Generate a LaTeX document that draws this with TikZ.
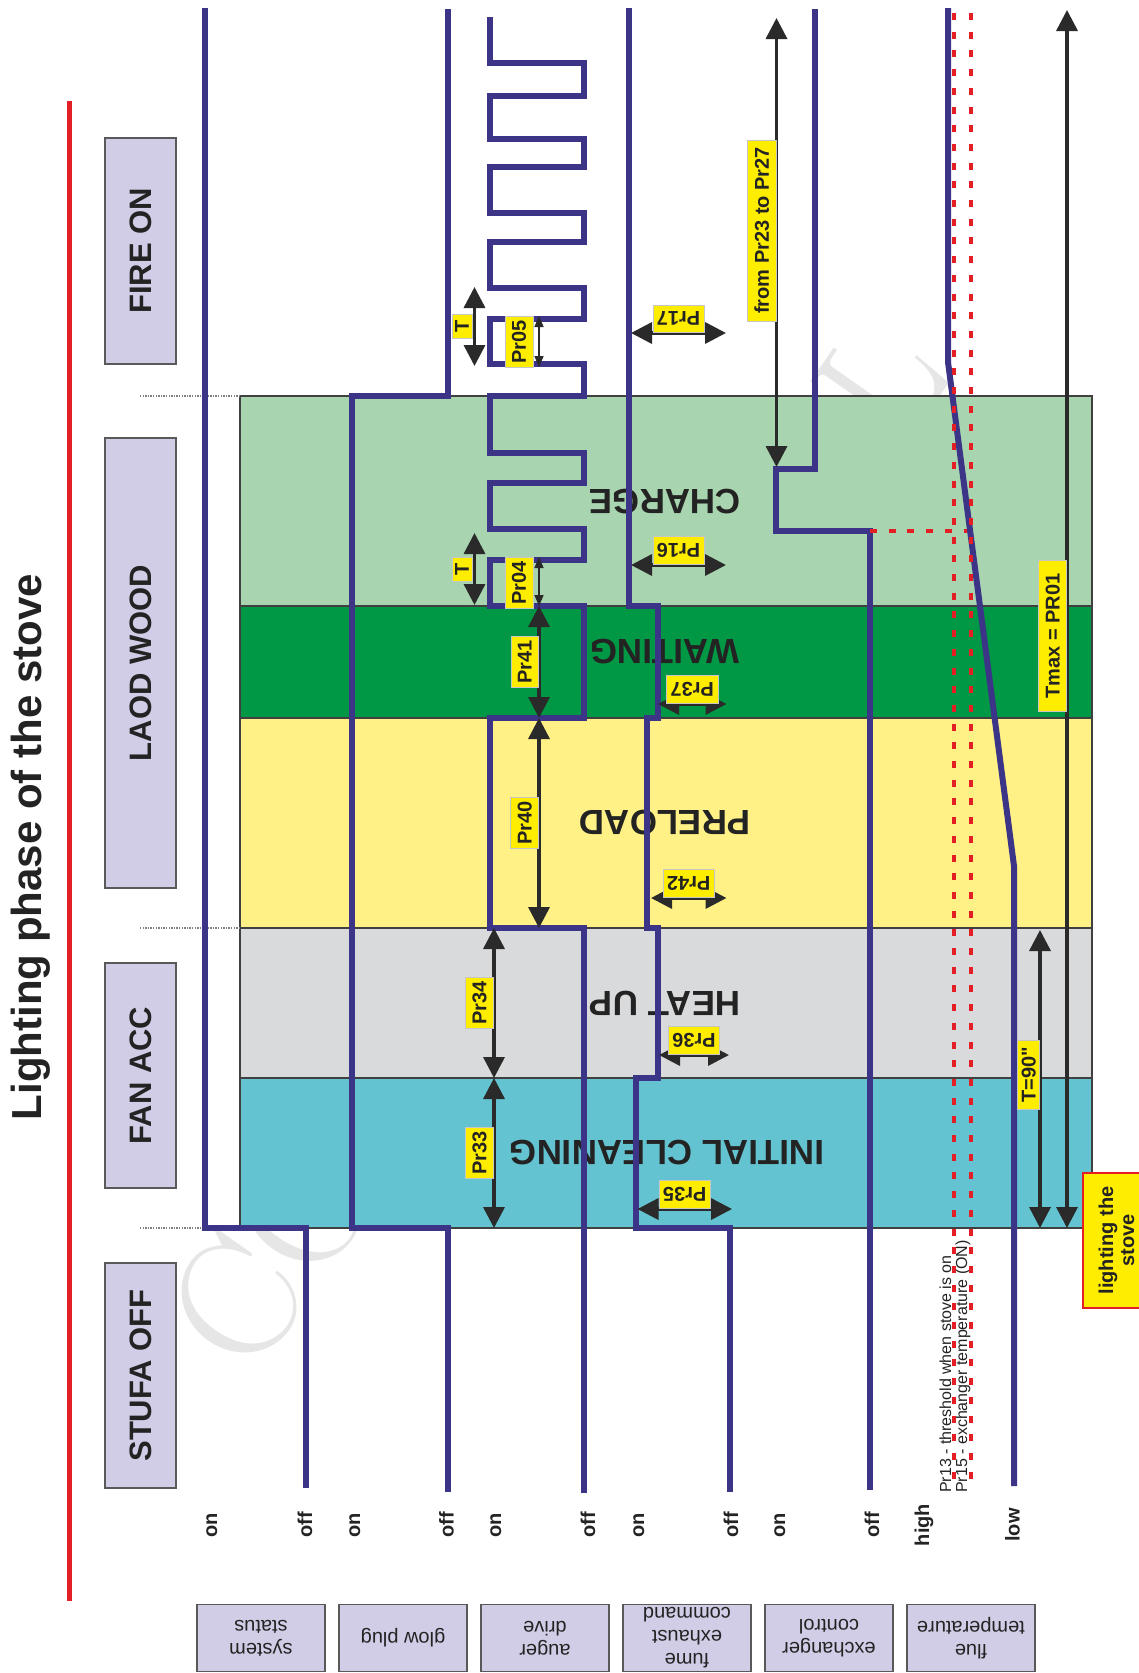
\documentclass[tikz,border=0pt]{standalone}
\usepackage{fontspec}
\newfontfamily\arialfont{Liberation Sans}
\usetikzlibrary{arrows.meta}

\definecolor{sigblue}{RGB}{59,52,135}
\definecolor{redline}{RGB}{227,30,36}
\definecolor{tagyellow}{RGB}{255,237,0}
\definecolor{lilac}{RGB}{209,205,230}
\definecolor{arrowdark}{RGB}{42,42,42}
\definecolor{inkgray}{RGB}{35,35,35}
\definecolor{wmgray}{RGB}{230,230,230}
\definecolor{bandcharge}{RGB}{168,213,176}
\definecolor{bandwait}{RGB}{0,152,68}
\definecolor{bandpre}{RGB}{255,241,133}
\definecolor{bandheat}{RGB}{217,218,219}
\definecolor{bandclean}{RGB}{100,195,208}

\tikzset{>={Triangle[length=21pt, width=21pt]}}
\tikzset{
  signal/.style={line width=6pt, draw=sigblue, line join=miter},
  dim/.style={<->, line width=3.5pt, draw=arrowdark},
  dimsmall/.style={{Triangle[length=11pt, width=9pt]}-{Triangle[length=11pt, width=9pt]}, line width=1.6pt, draw=arrowdark},
  tag/.style={fill=tagyellow, draw=gray!45, line width=0.6pt, inner xsep=4pt, inner ysep=7pt, text=inkgray,
    font=\arialfont\bfseries\fontsize{20}{22}\selectfont},
  phasebox/.style={fill=lilac, draw=black!65, line width=1.5pt, rotate=90, inner sep=0pt, minimum height=71pt,
    text=inkgray, font=\arialfont\bfseries\fontsize{31}{33}\selectfont},
  rowbox/.style={fill=lilac, draw=black!65, line width=1.5pt, rotate=180, inner sep=0pt, align=center,
    minimum width=128pt, minimum height=67pt, text=inkgray, font=\arialfont\fontsize{20}{23}\selectfont},
  band/.style={draw=black!75, line width=1.5pt},
  bandtext/.style={rotate=180, inner sep=0pt, text=inkgray, font=\arialfont\bfseries\fontsize{35}{37}\selectfont},
  level/.style={rotate=90, anchor=base, inner sep=0pt, text=inkgray, font=\arialfont\bfseries\fontsize{20}{22}\selectfont},
  sepline/.style={draw=gray, line width=1.2pt, dash pattern=on 1.3pt off 1.3pt},
  thresh/.style={draw=redline, line width=3.7pt, dash pattern=on 7pt off 11.7pt}
}

\begin{document}
\begin{tikzpicture}[x=1pt, y=-1pt]
\useasboundingbox (0,0) rectangle (1139,1673);

% faint watermark behind everything
\node[rotate=55, anchor=base west, inner sep=0pt, text=wmgray, font=\fontsize{168}{168}\selectfont] (wm) at (251,1381) {CONFIDENTIAL};

% phase bands
\foreach \ya/\yb/\col in {396/606/bandcharge, 606/718/bandwait, 718/928/bandpre, 928/1078/bandheat, 1078/1228/bandclean}
  \draw[band, fill=\col] (240,\ya) rectangle (1092,\yb);
\foreach \y in {396,928,1228}
  \draw[sepline] (140,\y) -- (240,\y);

\node[bandtext] (lcharge) at (665,502) {CHARGE};
\node[bandtext] (lwait) at (665,652) {WAITING};
\node[bandtext] (lpre) at (665,823) {PRELOAD};
\node[bandtext] (lheat) at (665,1003) {HEAT UP};
\node[bandtext] (lclean) at (667,1153) {INITIAL CLEANING};

% title and phases
\draw[line width=5pt, redline] (69,101) -- (69,1601);
\node[rotate=90, anchor=base, inner sep=0pt, text=inkgray, font=\arialfont\bfseries\fontsize{42}{44}\selectfont] (title) at (41,847) {Lighting phase of the stove};

\node[phasebox, minimum width=226pt] (fireon) at (140.5,251) {FIRE ON};
\node[phasebox, minimum width=450pt] (laod) at (140.5,663) {LAOD WOOD};
\node[phasebox, minimum width=225pt] (fanacc) at (140.5,1075.5) {FAN ACC};
\node[phasebox, minimum width=225pt] (stufa) at (140.5,1375.5) {STUFA OFF};

% row labels
\node[rowbox] (rsys) at (261,1638) {system\\status};
\node[rowbox] (rglow) at (403,1638) {glow plug};
\node[rowbox] (raug) at (545,1638) {auger\\drive};
\node[rowbox] (rfume) at (687,1638) {fume\\exhaust\\command};
\node[rowbox] (rexch) at (829,1638) {exchanger\\control};
\node[rowbox] (rflue) at (971,1638) {flue\\temperature};

\foreach \x/\t/\n in {217/on/v1, 312/off/v2, 360/on/v3, 453.5/off/v4, 501/on/v5, 595/off/v6,
    644/on/v7, 738/off/v8, 785/on/v9, 879/off/v10, 929/high/v11, 1019.5/low/v12}
  \node[level] (\n) at (\x,1525) {\t};

% signals
\draw[signal] (205,8) |- (306,1228) -- (306,1488);
\draw[signal] (448,9) |- (352,396) |- (448,1228) -- (448,1492);
\draw[signal] (490,17) |- (584,63) |- (490,96) |- (584,139) |- (490,167) |- (584,213) |- (490,242)
  |- (584,288) |- (490,319) |- (584,364) |- (490,396) |- (584,453) |- (490,483) |- (584,529)
  |- (490,560) |- (584,606) |- (490,718) |- (584,928) -- (584,1493);
\draw[signal] (629,8) |- (658,606) |- (647,718) |- (658,928) |- (636,1078) |- (730,1228) -- (730,1492);
\draw[signal] (815,9) |- (776,469) |- (870,531) -- (870,1490);
\draw[signal] (948,8) -- (948,362) -- (1014,866) -- (1014,1486);

% timing arrows
\foreach \n/\x/\ya/\yb in {Pr33/494/1078/1228, Pr34/494/928/1078, Pr40/539/718/928, Pr41/539/606/718}{
  \coordinate (\n-s) at (\x,\ya);
  \coordinate (\n-e) at (\x,\yb);
  \draw[dim] (\n-s) -- node[tag, rotate=90, anchor=south] (\n) {\n} (\n-e);
}
\foreach \n/\y/\xa/\xb in {Pr17/333/631/726, Pr16/565/631/726, Pr37/704/658/726.5,
    Pr42/898/651/726.5, Pr36/1055/659/729, Pr35/1209/637.5/732}{
  \coordinate (\n-s) at (\xa,\y);
  \coordinate (\n-e) at (\xb,\y);
  \draw[dim] (\n-s) -- node[tag, rotate=180, anchor=north] (\n) {\n} (\n-e);
}

\coordinate (ta-s) at (474.5,533);
\coordinate (ta-e) at (474.5,605);
\coordinate (tb-s) at (474.5,287);
\coordinate (tb-e) at (474.5,366);
\draw[dim] (ta-s) -- (ta-e);
\draw[dim] (tb-s) -- (tb-e);
\node[tag, rotate=90, inner ysep=3pt, minimum width=24pt] (ta) at (462,569) {T};
\node[tag, rotate=90, inner ysep=3pt, minimum width=24pt] (tb) at (462,326) {T};

\coordinate (p04-s) at (539,557);
\coordinate (p04-e) at (539,606);
\coordinate (p05-s) at (539,316);
\coordinate (p05-e) at (539,367);
\draw[dimsmall] (p04-s) -- (p04-e);
\draw[dimsmall] (p05-s) -- (p05-e);
\node[tag, rotate=90] (pr04) at (519,583) {Pr04};
\node[tag, rotate=90] (pr05) at (519,342) {Pr05};

\coordinate (fr-s) at (776.5,18);
\coordinate (fr-e) at (776.5,467);
\draw[dim] (fr-s) -- node[tag, rotate=90, anchor=south, pos=0.473, minimum width=181pt] (frlab) {from Pr23 to Pr27} (fr-e);

\coordinate (tm-s) at (1067,10);
\coordinate (tm-e) at (1067,1228);
\draw[dim] (tm-s) -- node[tag, rotate=90, anchor=south, pos=0.514, minimum width=151pt] (tmax) {Tmax = PR01} (tm-e);

\coordinate (t90-s) at (1040,930);
\coordinate (t90-e) at (1040,1228);
\draw[dim] (t90-s) -- node[tag, rotate=90, anchor=south, pos=0.485, inner ysep=4pt, minimum width=69pt] (t90) {T=90"} (t90-e);

% thresholds
\node[rotate=90, anchor=west, align=left, inner sep=0pt, text=inkgray, font=\arialfont\fontsize{16}{16}\selectfont] (thr) at (955,1493)
  {Pr13 - threshold when stove is on\\Pr15 - exchanger temperature (ON)};
\draw[thresh] (954,13) -- (954,1483);
\draw[thresh] (971,13) -- (971,1483);
\draw[thresh] (870,531) -- (967,531);

\node[fill=tagyellow, draw=redline, line width=2pt, rotate=90, inner sep=0pt, align=center, minimum width=135pt, minimum height=67pt,
  text=inkgray, font=\arialfont\bfseries\fontsize{20}{21}\selectfont] (light) at (1116.5,1240.5) {lighting the\\stove};
\end{tikzpicture}
\end{document}
